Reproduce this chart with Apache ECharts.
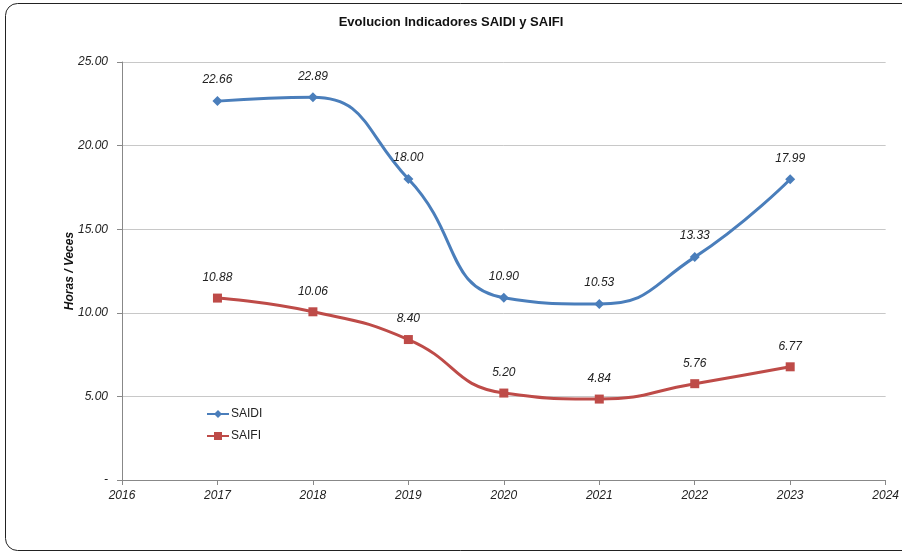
<!DOCTYPE html>
<html>
<head>
<meta charset="utf-8">
<script src="https://cdn.jsdelivr.net/npm/echarts@6/dist/echarts.min.js"></script>
<style>
  html, body { margin: 0; padding: 0; background: #fff; }
  #chart { width: 902px; height: 554px; }
</style>
</head>
<body>
<div id="chart"></div>
<script>
var years = [2017, 2018, 2019, 2020, 2021, 2022, 2023]
var saidi = [22.66, 22.89, 18.00, 10.90, 10.53, 13.33, 17.99]
var saifi = [10.88, 10.06, 8.40, 5.20, 4.84, 5.76, 6.77]

var font = 'Liberation Sans Narrow, Arial Narrow, Liberation Sans, sans-serif'

function pairs(vals) {
  return years.map(function (y, i) { return [y, vals[i]] })
}

var chart = echarts.init(document.getElementById('chart'))
chart.setOption({
  animation: false,
  textStyle: { fontFamily: font },
  title: {
    text: 'Evolucion Indicadores SAIDI y SAIFI',
    left: 'center',
    top: 11,
    textStyle: { fontSize: 13, fontWeight: 'bold', color: '#111', fontFamily: font }
  },
  graphic: [
    {
      type: 'rect',
      shape: { x: 5.5, y: 3.5, width: 930, height: 547, r: 12 },
      style: { fill: 'none', stroke: '#222', lineWidth: 1 },
      silent: true
    }
  ],
  legend: {
    orient: 'vertical',
    left: 201,
    top: 403,
    itemGap: 10,
    itemWidth: 22,
    itemHeight: 10,
    textStyle: { fontSize: 12, color: '#222', fontFamily: font, padding: [0, 0, 0, -3] },
    data: ['SAIDI', 'SAIFI']
  },
  grid: { left: 122, right: 13, top: 62, bottom: 74 },
  xAxis: {
    type: 'value',
    min: 2016,
    max: 2024,
    interval: 1,
    axisLine: { lineStyle: { color: '#888' } },
    axisTick: { show: true, length: 5, lineStyle: { color: '#888' } },
    splitLine: { show: false },
    axisLabel: {
      color: '#222',
      fontStyle: 'italic',
      fontSize: 12,
      margin: 10,
      fontFamily: font,
      formatter: function (v) { return String(v) }
    }
  },
  yAxis: {
    type: 'value',
    min: 0,
    max: 25,
    interval: 5,
    name: 'Horas / Veces',
    nameLocation: 'middle',
    nameGap: 46,
    nameMoveOverlap: false,
    nameTextStyle: { fontStyle: 'italic', fontWeight: 'bold', fontSize: 12, color: '#111', fontFamily: font },
    axisLine: { show: true, lineStyle: { color: '#888' } },
    axisTick: { show: true, length: 5, lineStyle: { color: '#888' } },
    splitLine: { lineStyle: { color: '#c8c8c8' } },
    axisLabel: {
      color: '#222',
      fontStyle: 'italic',
      fontSize: 12,
      margin: 14,
      fontFamily: font,
      formatter: function (v) { return v === 0 ? '-' : v.toFixed(2) }
    }
  },
  series: [
    {
      name: 'SAIDI',
      type: 'line',
      smooth: 0.5,
      data: pairs(saidi),
      symbol: 'diamond',
      symbolSize: 10,
      lineStyle: { width: 3, color: '#4a7ebb' },
      itemStyle: { color: '#4a7ebb' },
      label: {
        show: true,
        position: 'top',
        distance: 10,
        fontStyle: 'italic',
        fontSize: 12,
        color: '#222',
        fontFamily: font,
        formatter: function (p) { return p.value[1].toFixed(2) }
      }
    },
    {
      name: 'SAIFI',
      type: 'line',
      smooth: 0.5,
      data: pairs(saifi),
      symbol: 'rect',
      symbolSize: 9,
      lineStyle: { width: 3, color: '#be4b48' },
      itemStyle: { color: '#be4b48' },
      label: {
        show: true,
        position: 'top',
        distance: 10,
        fontStyle: 'italic',
        fontSize: 12,
        color: '#222',
        fontFamily: font,
        formatter: function (p) { return p.value[1].toFixed(2) }
      }
    }
  ]
})
</script>
</body>
</html>
